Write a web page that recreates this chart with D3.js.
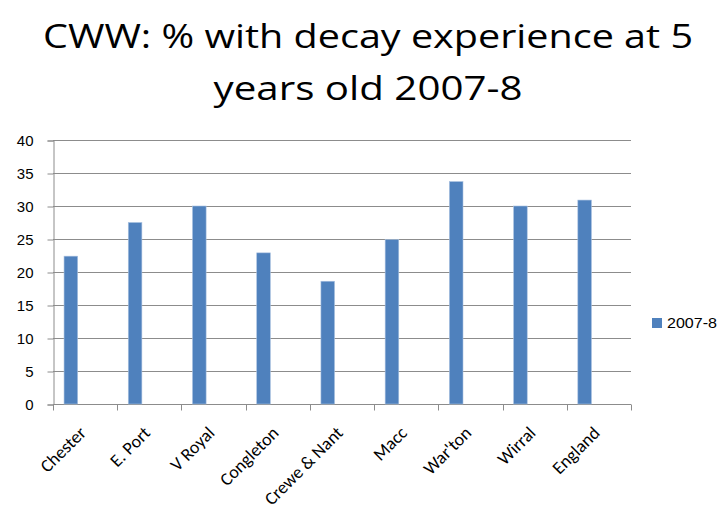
<!DOCTYPE html>
<html>
<head>
<meta charset="utf-8">
<style>
body { margin: 0; background: #fff; }
svg { display: block; }
.title { font-family: "Open Sans", Lato, sans-serif; font-size: 33px; fill: #000; }
.axis text { font-family: "Liberation Sans", Arial, sans-serif; font-size: 15px; fill: #000; }
.xlab { font-family: Carlito, Lato, "Open Sans", sans-serif; font-size: 18px; fill: #000; }
.legend text { font-family: "Liberation Sans", Arial, sans-serif; font-size: 14px; fill: #000; }
</style>
</head>
<body>
<svg id="chart" width="726" height="508"></svg>
<script src="https://cdn.jsdelivr.net/npm/d3@7"></script>
<script>
// data
var areas = ["Chester", "E. Port", "V Royal", "Congleton", "Crewe & Nant", "Macc", "War'ton", "Wirral", "England"];
var decay = [22.4, 27.5, 30.0, 22.9, 18.6, 24.9, 33.7, 30.0, 30.9];
var seriesName = "2007-8";
var yTicks = [0, 5, 10, 15, 20, 25, 30, 35, 40];

var svg = d3.select("#chart");
var plotL = 53, plotR = 631, plotT = 140, plotB = 404;

var x = d3.scaleBand().domain(areas).range([plotL, plotR]).padding(0);
var y = d3.scaleLinear().domain([0, 40]).range([plotB, plotT]);

// title, two lines (stretched to the width seen in the picture)
var title = svg.append("text").attr("class", "title").attr("text-anchor", "middle");
title.append("tspan").attr("x", 368).attr("y", 48)
  .attr("textLength", 650).attr("lengthAdjust", "spacingAndGlyphs")
  .text("CWW: % with decay experience at 5");
title.append("tspan").attr("x", 368).attr("y", 100)
  .attr("textLength", 309).attr("lengthAdjust", "spacingAndGlyphs")
  .text("years old 2007-8");

// gridlines
svg.append("g")
  .selectAll("line")
  .data(yTicks.slice(1))
  .enter().append("line")
  .attr("x1", plotL).attr("x2", plotR)
  .attr("y1", function(d) { return Math.round(y(d)) + 0.5; })
  .attr("y2", function(d) { return Math.round(y(d)) + 0.5; })
  .attr("stroke", "#8c8c8c").attr("stroke-width", 1);

// y axis
var yAxis = svg.append("g").attr("class", "axis")
  .attr("transform", "translate(" + (plotL + 0.5) + ",0.5)")
  .call(d3.axisLeft(y).tickValues(yTicks).tickSize(6).tickPadding(14));
yAxis.selectAll("line, path").attr("stroke", "#8c8c8c");

// x axis with ticks at band edges
var xg = svg.append("g").attr("transform", "translate(0," + (plotB + 0.5) + ")");
xg.append("line").attr("x1", plotL).attr("x2", plotR).attr("stroke", "#8c8c8c");
xg.selectAll(".tk")
  .data(areas.concat(["end"]))
  .enter().append("line")
  .attr("x1", function(d, i) { return Math.round(plotL + i * x.step()) + 0.5; })
  .attr("x2", function(d, i) { return Math.round(plotL + i * x.step()) + 0.5; })
  .attr("y1", 0).attr("y2", 6)
  .attr("stroke", "#8c8c8c");

// bars (sit on the left of each category, like excel with empty series)
svg.append("g")
  .selectAll("rect")
  .data(areas)
  .enter().append("rect")
  .attr("x", function(d) { return x(d) + x.bandwidth() * 0.172; })
  .attr("width", x.bandwidth() * 0.212)
  .attr("y", function(d, i) { return y(decay[i]); })
  .attr("height", function(d, i) { return plotB - y(decay[i]); })
  .attr("fill", "#4f81bd")
  .attr("stroke", "#a9c1e0").attr("stroke-width", 0.6);

// category labels, rotated
svg.append("g")
  .selectAll("text")
  .data(areas)
  .enter().append("text")
  .attr("class", "xlab")
  .attr("text-anchor", "end")
  .attr("transform", function(d) {
    return "translate(" + (x(d) + x.bandwidth() / 2 + 2) + "," + 434 + ") rotate(-45)";
  })
  .text(function(d) { return d; });

// legend
var legend = svg.append("g").attr("class", "legend");
legend.append("rect")
  .attr("x", 652).attr("y", 318).attr("width", 10).attr("height", 10)
  .attr("fill", "#4f81bd");
legend.append("text").attr("x", 667).attr("y", 328)
  .attr("textLength", 50).attr("lengthAdjust", "spacingAndGlyphs")
  .text(seriesName);
</script>
</body>
</html>
